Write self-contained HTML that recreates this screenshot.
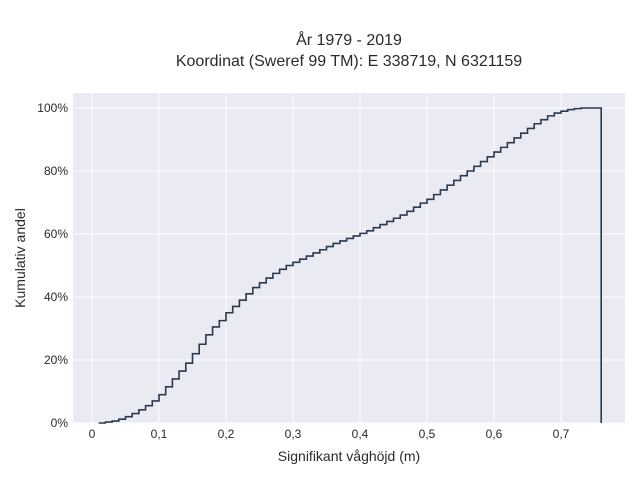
<!DOCTYPE html>
<html><head><meta charset="utf-8"><style>
body{margin:0;background:#fff;font-family:"Liberation Sans",sans-serif}
</style></head><body>
<svg id="c" width="640" height="480" xmlns="http://www.w3.org/2000/svg" font-family="Liberation Sans, sans-serif">
<rect width="640" height="480" fill="#fff"/>
<rect x="73" y="93" width="552" height="330" fill="#eaeaf2"/>
<g id="grid"></g>
<path id="line" fill="none" stroke="#2a3a4f" stroke-width="1.6"/>
<text x="349" y="45" text-anchor="middle" font-size="16" fill="#2a2a2a">År 1979 - 2019</text>
<text x="349" y="66" text-anchor="middle" font-size="16" fill="#2a2a2a">Koordinat (Sweref 99 TM): E 338719, N 6321159</text>
<text x="349" y="461" text-anchor="middle" font-size="14" fill="#2a2a2a">Signifikant våghöjd (m)</text>
<text transform="translate(25,258) rotate(-90)" text-anchor="middle" font-size="14" fill="#2a2a2a">Kumulativ andel</text>
<g id="ticks"></g>
</svg>
<script>
const edges=[0.01,0.02,0.03,0.04,0.05,0.06,0.07,0.08,0.09,0.10,0.11,0.12,0.13,0.14,0.15,0.16,0.17,0.18,0.19,0.20,0.21,0.22,0.23,0.24,0.25,0.26,0.27,0.28,0.29,0.30,0.31,0.32,0.33,0.34,0.35,0.36,0.37,0.38,0.39,0.40,0.41,0.42,0.43,0.44,0.45,0.46,0.47,0.48,0.49,0.50,0.51,0.52,0.53,0.54,0.55,0.56,0.57,0.58,0.59,0.60,0.61,0.62,0.63,0.64,0.65,0.66,0.67,0.68,0.69,0.70,0.71,0.72,0.73,0.74,0.75];
const cum=[0,0.3,0.6,1.2,2,3,4.2,5.5,7,9,11.5,14,16.5,19,22,25,28,30.5,32.5,35,37,39,41,43,44.5,46,47.5,48.8,50,51,52,53,54,55,56,57,57.8,58.6,59.4,60.2,61,62,63,64,65,66,67.2,68.5,69.8,71,72.5,74,75.5,77,78.5,80,81.5,83,84.5,86,87.5,89,90.5,92,93.5,95,96.3,97.5,98.4,99,99.5,99.8,100,100,100];
const binW=0.01;
const xTicks=[0,0.1,0.2,0.3,0.4,0.5,0.6,0.7];
const xTickLabels=["0","0,1","0,2","0,3","0,4","0,5","0,6","0,7"];
const yTicks=[0,20,40,60,80,100];
const yTickLabels=["0%","20%","40%","60%","80%","100%"];
const X=v=>92+v*670, Y=v=>423-v*3.15;
const NS="http://www.w3.org/2000/svg";
const g=document.getElementById('grid'), t=document.getElementById('ticks');
function mk(p,tag,a){const e=document.createElementNS(NS,tag);for(const k in a)e.setAttribute(k,a[k]);p.appendChild(e);return e;}
xTicks.forEach((v,i)=>{
 const l=mk(g,'line',{x1:X(v),x2:X(v),y1:93,y2:423,stroke:'#fff','stroke-width':1});
 
 
 const s=mk(t,'text',{x:X(v),y:438,'text-anchor':'middle','font-size':12,fill:'#2a2a2a'});s.textContent=xTickLabels[i];
 
 
});
yTicks.forEach((v,i)=>{
 const l=mk(g,'line',{x1:73,x2:625,y1:Y(v),y2:Y(v),stroke:'#fff','stroke-width':1});
 
 
 const s=mk(t,'text',{x:68,y:Y(v)+4,'text-anchor':'end','font-size':12,fill:'#2a2a2a'});s.textContent=yTickLabels[i];
 
 
});
let d='M'+X(edges[0])+','+Y(0);
edges.forEach((e,i)=>{d+=' L'+X(e)+','+Y(cum[i])+' L'+X(e+binW)+','+Y(cum[i]);});
d+=' L'+X(edges[edges.length-1]+binW)+','+Y(0);
document.getElementById('line').setAttribute('d',d);
</script>
</body></html>
